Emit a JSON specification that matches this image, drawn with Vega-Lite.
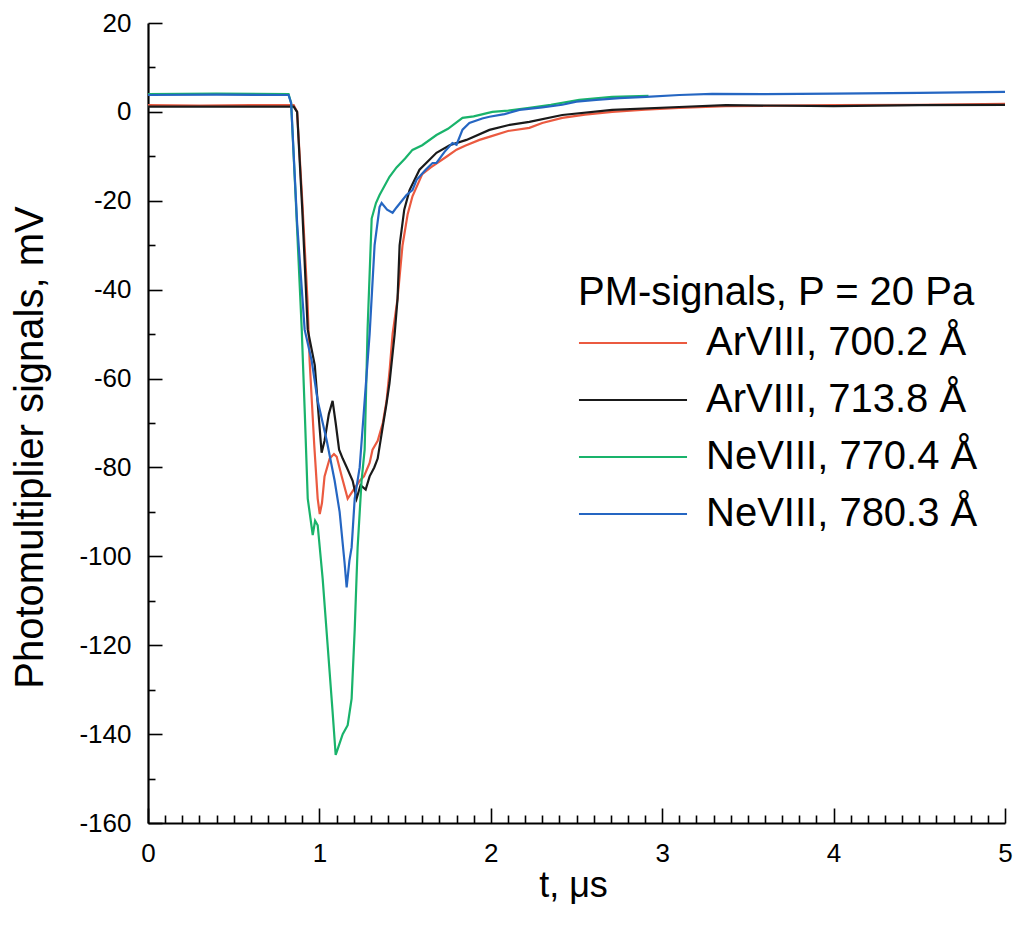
{
  "$schema": "https://vega.github.io/schema/vega-lite/v6.json",
  "width": 857,
  "height": 800,
  "autosize": "none",
  "padding": {"left": 148, "top": 23, "right": 8, "bottom": 109},
  "background": "white",
  "config": {
    "view": {"stroke": null},
    "font": "Liberation Sans"
  },
  "data": {"values": [
    {"s":"ArVIII, 700.2 Å","t":0,"v":1.5},{"s":"ArVIII, 700.2 Å","t":0.3,"v":1.4},{"s":"ArVIII, 700.2 Å","t":0.6,"v":1.5},{"s":"ArVIII, 700.2 Å","t":0.85,"v":1.5},{"s":"ArVIII, 700.2 Å","t":0.87,"v":0},{"s":"ArVIII, 700.2 Å","t":0.9,"v":-20},{"s":"ArVIII, 700.2 Å","t":0.93,"v":-42},{"s":"ArVIII, 700.2 Å","t":0.943,"v":-56},{"s":"ArVIII, 700.2 Å","t":0.97,"v":-75},{"s":"ArVIII, 700.2 Å","t":0.99,"v":-87},{"s":"ArVIII, 700.2 Å","t":1.002,"v":-90.5},{"s":"ArVIII, 700.2 Å","t":1.015,"v":-88},{"s":"ArVIII, 700.2 Å","t":1.03,"v":-82},{"s":"ArVIII, 700.2 Å","t":1.06,"v":-78},{"s":"ArVIII, 700.2 Å","t":1.085,"v":-77},{"s":"ArVIII, 700.2 Å","t":1.101,"v":-77.6},{"s":"ArVIII, 700.2 Å","t":1.13,"v":-82},{"s":"ArVIII, 700.2 Å","t":1.165,"v":-87},{"s":"ArVIII, 700.2 Å","t":1.2,"v":-85},{"s":"ArVIII, 700.2 Å","t":1.235,"v":-83},{"s":"ArVIII, 700.2 Å","t":1.26,"v":-82},{"s":"ArVIII, 700.2 Å","t":1.293,"v":-79},{"s":"ArVIII, 700.2 Å","t":1.31,"v":-76},{"s":"ArVIII, 700.2 Å","t":1.34,"v":-74},{"s":"ArVIII, 700.2 Å","t":1.37,"v":-70},{"s":"ArVIII, 700.2 Å","t":1.392,"v":-65},{"s":"ArVIII, 700.2 Å","t":1.41,"v":-58},{"s":"ArVIII, 700.2 Å","t":1.427,"v":-50},{"s":"ArVIII, 700.2 Å","t":1.456,"v":-42},{"s":"ArVIII, 700.2 Å","t":1.485,"v":-30},{"s":"ArVIII, 700.2 Å","t":1.515,"v":-23},{"s":"ArVIII, 700.2 Å","t":1.543,"v":-19},{"s":"ArVIII, 700.2 Å","t":1.6,"v":-14},{"s":"ArVIII, 700.2 Å","t":1.65,"v":-12.5},{"s":"ArVIII, 700.2 Å","t":1.741,"v":-10.1},{"s":"ArVIII, 700.2 Å","t":1.8,"v":-8.5},{"s":"ArVIII, 700.2 Å","t":1.85,"v":-7.6},{"s":"ArVIII, 700.2 Å","t":1.934,"v":-6.3},{"s":"ArVIII, 700.2 Å","t":2.0,"v":-5.5},{"s":"ArVIII, 700.2 Å","t":2.1,"v":-4.3},{"s":"ArVIII, 700.2 Å","t":2.225,"v":-3.6},{"s":"ArVIII, 700.2 Å","t":2.3,"v":-2.5},{"s":"ArVIII, 700.2 Å","t":2.417,"v":-1.35},{"s":"ArVIII, 700.2 Å","t":2.55,"v":-0.6},{"s":"ArVIII, 700.2 Å","t":2.708,"v":0},{"s":"ArVIII, 700.2 Å","t":2.9,"v":0.5},{"s":"ArVIII, 700.2 Å","t":3.098,"v":0.9},{"s":"ArVIII, 700.2 Å","t":3.372,"v":1.3},{"s":"ArVIII, 700.2 Å","t":3.7,"v":1.4},{"s":"ArVIII, 700.2 Å","t":4.0,"v":1.5},{"s":"ArVIII, 700.2 Å","t":4.5,"v":1.6},{"s":"ArVIII, 700.2 Å","t":5.0,"v":1.8},

    {"s":"ArVIII, 713.8 Å","t":0,"v":1.2},{"s":"ArVIII, 713.8 Å","t":0.4,"v":1.2},{"s":"ArVIII, 713.8 Å","t":0.85,"v":1.2},{"s":"ArVIII, 713.8 Å","t":0.87,"v":0},{"s":"ArVIII, 713.8 Å","t":0.9,"v":-22},{"s":"ArVIII, 713.8 Å","t":0.932,"v":-49},{"s":"ArVIII, 713.8 Å","t":0.973,"v":-57},{"s":"ArVIII, 713.8 Å","t":0.995,"v":-68},{"s":"ArVIII, 713.8 Å","t":1.013,"v":-76.7},{"s":"ArVIII, 713.8 Å","t":1.03,"v":-74},{"s":"ArVIII, 713.8 Å","t":1.055,"v":-68},{"s":"ArVIII, 713.8 Å","t":1.077,"v":-65},{"s":"ArVIII, 713.8 Å","t":1.095,"v":-70},{"s":"ArVIII, 713.8 Å","t":1.115,"v":-76},{"s":"ArVIII, 713.8 Å","t":1.136,"v":-78},{"s":"ArVIII, 713.8 Å","t":1.16,"v":-80},{"s":"ArVIII, 713.8 Å","t":1.194,"v":-83},{"s":"ArVIII, 713.8 Å","t":1.217,"v":-87},{"s":"ArVIII, 713.8 Å","t":1.24,"v":-84},{"s":"ArVIII, 713.8 Å","t":1.27,"v":-85},{"s":"ArVIII, 713.8 Å","t":1.293,"v":-82},{"s":"ArVIII, 713.8 Å","t":1.32,"v":-80},{"s":"ArVIII, 713.8 Å","t":1.34,"v":-78},{"s":"ArVIII, 713.8 Å","t":1.369,"v":-71},{"s":"ArVIII, 713.8 Å","t":1.39,"v":-66},{"s":"ArVIII, 713.8 Å","t":1.409,"v":-61},{"s":"ArVIII, 713.8 Å","t":1.439,"v":-50},{"s":"ArVIII, 713.8 Å","t":1.456,"v":-42},{"s":"ArVIII, 713.8 Å","t":1.468,"v":-30},{"s":"ArVIII, 713.8 Å","t":1.495,"v":-22},{"s":"ArVIII, 713.8 Å","t":1.526,"v":-17.6},{"s":"ArVIII, 713.8 Å","t":1.584,"v":-13},{"s":"ArVIII, 713.8 Å","t":1.683,"v":-9.2},{"s":"ArVIII, 713.8 Å","t":1.76,"v":-7.5},{"s":"ArVIII, 713.8 Å","t":1.858,"v":-6.3},{"s":"ArVIII, 713.8 Å","t":1.992,"v":-4.05},{"s":"ArVIII, 713.8 Å","t":2.1,"v":-3.0},{"s":"ArVIII, 713.8 Å","t":2.225,"v":-2.25},{"s":"ArVIII, 713.8 Å","t":2.417,"v":-0.7},{"s":"ArVIII, 713.8 Å","t":2.708,"v":0.45},{"s":"ArVIII, 713.8 Å","t":3.098,"v":1.1},{"s":"ArVIII, 713.8 Å","t":3.372,"v":1.5},{"s":"ArVIII, 713.8 Å","t":4.0,"v":1.3},{"s":"ArVIII, 713.8 Å","t":4.5,"v":1.5},{"s":"ArVIII, 713.8 Å","t":5.0,"v":1.6},

    {"s":"NeVIII, 770.4 Å","t":0,"v":4.0},{"s":"NeVIII, 770.4 Å","t":0.4,"v":4.1},{"s":"NeVIII, 770.4 Å","t":0.82,"v":4.0},{"s":"NeVIII, 770.4 Å","t":0.835,"v":2},{"s":"NeVIII, 770.4 Å","t":0.86,"v":-18},{"s":"NeVIII, 770.4 Å","t":0.897,"v":-49},{"s":"NeVIII, 770.4 Å","t":0.915,"v":-68},{"s":"NeVIII, 770.4 Å","t":0.932,"v":-87},{"s":"NeVIII, 770.4 Å","t":0.961,"v":-95.2},{"s":"NeVIII, 770.4 Å","t":0.975,"v":-92},{"s":"NeVIII, 770.4 Å","t":0.99,"v":-93},{"s":"NeVIII, 770.4 Å","t":1.019,"v":-105},{"s":"NeVIII, 770.4 Å","t":1.048,"v":-120},{"s":"NeVIII, 770.4 Å","t":1.077,"v":-135},{"s":"NeVIII, 770.4 Å","t":1.095,"v":-144.7},{"s":"NeVIII, 770.4 Å","t":1.11,"v":-143},{"s":"NeVIII, 770.4 Å","t":1.136,"v":-140},{"s":"NeVIII, 770.4 Å","t":1.165,"v":-138},{"s":"NeVIII, 770.4 Å","t":1.188,"v":-132},{"s":"NeVIII, 770.4 Å","t":1.206,"v":-116.5},{"s":"NeVIII, 770.4 Å","t":1.223,"v":-98},{"s":"NeVIII, 770.4 Å","t":1.246,"v":-83},{"s":"NeVIII, 770.4 Å","t":1.264,"v":-76},{"s":"NeVIII, 770.4 Å","t":1.281,"v":-49},{"s":"NeVIII, 770.4 Å","t":1.305,"v":-24},{"s":"NeVIII, 770.4 Å","t":1.33,"v":-20.5},{"s":"NeVIII, 770.4 Å","t":1.351,"v":-18.7},{"s":"NeVIII, 770.4 Å","t":1.409,"v":-14.6},{"s":"NeVIII, 770.4 Å","t":1.45,"v":-12.5},{"s":"NeVIII, 770.4 Å","t":1.5,"v":-10.5},{"s":"NeVIII, 770.4 Å","t":1.543,"v":-8.55},{"s":"NeVIII, 770.4 Å","t":1.6,"v":-7.5},{"s":"NeVIII, 770.4 Å","t":1.683,"v":-5.2},{"s":"NeVIII, 770.4 Å","t":1.75,"v":-3.8},{"s":"NeVIII, 770.4 Å","t":1.835,"v":-1.35},{"s":"NeVIII, 770.4 Å","t":1.9,"v":-1.0},{"s":"NeVIII, 770.4 Å","t":2.009,"v":0},{"s":"NeVIII, 770.4 Å","t":2.1,"v":0.3},{"s":"NeVIII, 770.4 Å","t":2.225,"v":0.9},{"s":"NeVIII, 770.4 Å","t":2.35,"v":1.6},{"s":"NeVIII, 770.4 Å","t":2.516,"v":2.7},{"s":"NeVIII, 770.4 Å","t":2.708,"v":3.4},{"s":"NeVIII, 770.4 Å","t":2.92,"v":3.6},

    {"s":"NeVIII, 780.3 Å","t":0,"v":3.8},{"s":"NeVIII, 780.3 Å","t":0.4,"v":3.9},{"s":"NeVIII, 780.3 Å","t":0.82,"v":3.8},{"s":"NeVIII, 780.3 Å","t":0.835,"v":2},{"s":"NeVIII, 780.3 Å","t":0.87,"v":-25},{"s":"NeVIII, 780.3 Å","t":0.914,"v":-49},{"s":"NeVIII, 780.3 Å","t":0.955,"v":-56},{"s":"NeVIII, 780.3 Å","t":0.99,"v":-65},{"s":"NeVIII, 780.3 Å","t":1.043,"v":-74},{"s":"NeVIII, 780.3 Å","t":1.089,"v":-83},{"s":"NeVIII, 780.3 Å","t":1.118,"v":-90},{"s":"NeVIII, 780.3 Å","t":1.147,"v":-101.5},{"s":"NeVIII, 780.3 Å","t":1.159,"v":-107},{"s":"NeVIII, 780.3 Å","t":1.175,"v":-101},{"s":"NeVIII, 780.3 Å","t":1.188,"v":-98},{"s":"NeVIII, 780.3 Å","t":1.206,"v":-87},{"s":"NeVIII, 780.3 Å","t":1.235,"v":-80},{"s":"NeVIII, 780.3 Å","t":1.264,"v":-65},{"s":"NeVIII, 780.3 Å","t":1.293,"v":-50},{"s":"NeVIII, 780.3 Å","t":1.322,"v":-30},{"s":"NeVIII, 780.3 Å","t":1.351,"v":-21.4},{"s":"NeVIII, 780.3 Å","t":1.363,"v":-20.5},{"s":"NeVIII, 780.3 Å","t":1.395,"v":-22},{"s":"NeVIII, 780.3 Å","t":1.427,"v":-22.7},{"s":"NeVIII, 780.3 Å","t":1.45,"v":-21.5},{"s":"NeVIII, 780.3 Å","t":1.508,"v":-18.7},{"s":"NeVIII, 780.3 Å","t":1.543,"v":-17.6},{"s":"NeVIII, 780.3 Å","t":1.567,"v":-15.3},{"s":"NeVIII, 780.3 Å","t":1.62,"v":-13},{"s":"NeVIII, 780.3 Å","t":1.66,"v":-11.5},{"s":"NeVIII, 780.3 Å","t":1.683,"v":-11.5},{"s":"NeVIII, 780.3 Å","t":1.73,"v":-9},{"s":"NeVIII, 780.3 Å","t":1.776,"v":-7.0},{"s":"NeVIII, 780.3 Å","t":1.8,"v":-7.4},{"s":"NeVIII, 780.3 Å","t":1.835,"v":-4},{"s":"NeVIII, 780.3 Å","t":1.875,"v":-2.5},{"s":"NeVIII, 780.3 Å","t":1.95,"v":-1.5},{"s":"NeVIII, 780.3 Å","t":1.992,"v":-1.1},{"s":"NeVIII, 780.3 Å","t":2.08,"v":-0.5},{"s":"NeVIII, 780.3 Å","t":2.167,"v":0.45},{"s":"NeVIII, 780.3 Å","t":2.3,"v":1.0},{"s":"NeVIII, 780.3 Å","t":2.417,"v":1.6},{"s":"NeVIII, 780.3 Å","t":2.5,"v":2.3},{"s":"NeVIII, 780.3 Å","t":2.615,"v":2.7},{"s":"NeVIII, 780.3 Å","t":2.75,"v":3.1},{"s":"NeVIII, 780.3 Å","t":2.906,"v":3.4},{"s":"NeVIII, 780.3 Å","t":3.1,"v":3.8},{"s":"NeVIII, 780.3 Å","t":3.291,"v":4.05},{"s":"NeVIII, 780.3 Å","t":3.6,"v":4.0},{"s":"NeVIII, 780.3 Å","t":4.0,"v":4.1},{"s":"NeVIII, 780.3 Å","t":4.5,"v":4.3},{"s":"NeVIII, 780.3 Å","t":5.0,"v":4.5}
  ]},
  "mark": {"type": "line", "strokeWidth": 2.2, "clip": true},
  "encoding": {
    "x": {
      "field": "t", "type": "quantitative",
      "scale": {"domain": [0, 5], "nice": false, "zero": false},
      "axis": {
        "title": "t, μs",
        "values": [0,0.1,0.2,0.3,0.4,0.5,0.6,0.7,0.8,0.9,1,1.1,1.2,1.3,1.4,1.5,1.6,1.7,1.8,1.9,2,2.1,2.2,2.3,2.4,2.5,2.6,2.7,2.8,2.9,3,3.1,3.2,3.3,3.4,3.5,3.6,3.7,3.8,3.9,4,4.1,4.2,4.3,4.4,4.5,4.6,4.7,4.8,4.9,5],
        "labelExpr": "abs(datum.value - round(datum.value)) < 0.001 ? ('' + round(datum.value)) : ''",
        "labelOverlap": false,
        "labelFlush": false,
        "labelFontSize": 26,
        "labelColor": "black",
        "labelPadding": 32,
        "tickSize": {"condition": {"test": "abs(datum.value - round(datum.value)) < 0.001", "value": -15}, "value": -8},
        "tickColor": "black",
        "tickWidth": 1.6,
        "domainColor": "black",
        "domainWidth": 2.2,
        "grid": false,
        "titleFontSize": 36,
        "titleFontWeight": "normal",
        "titleColor": "black",
        "titleX": 425,
        "titleY": 62,
        "titleBaseline": "middle"
      }
    },
    "y": {
      "field": "v", "type": "quantitative",
      "scale": {"domain": [-160, 20], "nice": false, "zero": false},
      "axis": {
        "title": "Photomultiplier signals, mV",
        "values": [-160,-150,-140,-130,-120,-110,-100,-90,-80,-70,-60,-50,-40,-30,-20,-10,0,10,20],
        "labelExpr": "abs(datum.value % 20) < 0.001 ? ('' + datum.value) : ''",
        "labelOverlap": false,
        "labelFlush": false,
        "labelFontSize": 26,
        "labelColor": "black",
        "labelPadding": 31,
        "tickSize": {"condition": {"test": "abs(datum.value % 20) < 0.001", "value": -14}, "value": -7},
        "tickColor": "black",
        "tickWidth": 1.6,
        "domainColor": "black",
        "domainWidth": 2.2,
        "grid": false,
        "titleFontSize": 40,
        "titleFontWeight": "normal",
        "titleColor": "black",
        "titleX": -118,
        "titleY": 424,
        "titleBaseline": "middle",
        "titleAngle": -90,
        "titleAlign": "center"
      }
    },
    "color": {
      "field": "s", "type": "nominal",
      "scale": {
        "domain": ["ArVIII, 700.2 Å", "ArVIII, 713.8 Å", "NeVIII, 770.4 Å", "NeVIII, 780.3 Å"],
        "range": ["#eb5a40", "#1a1a1a", "#19b36b", "#2566c2"]
      },
      "legend": {
        "title": "PM-signals, P = 20 Pa",
        "orient": "none",
        "legendX": 430,
        "legendY": 250,
        "titleFontSize": 40,
        "titleFontWeight": "normal",
        "titleColor": "black",
        "titlePadding": 10,
        "titleLimit": 600,
        "labelLimit": 500,
        "labelFontSize": 40,
        "labelColor": "black",
        "symbolType": "M-5,0H5",
        "symbolSize": 467,
        "symbolOffset": 35,
        "symbolStrokeWidth": 2.2,
        "labelOffset": 53,
        "rowPadding": 17
      }
    },
    "order": {"field": "s", "type": "nominal"}
  }
}
